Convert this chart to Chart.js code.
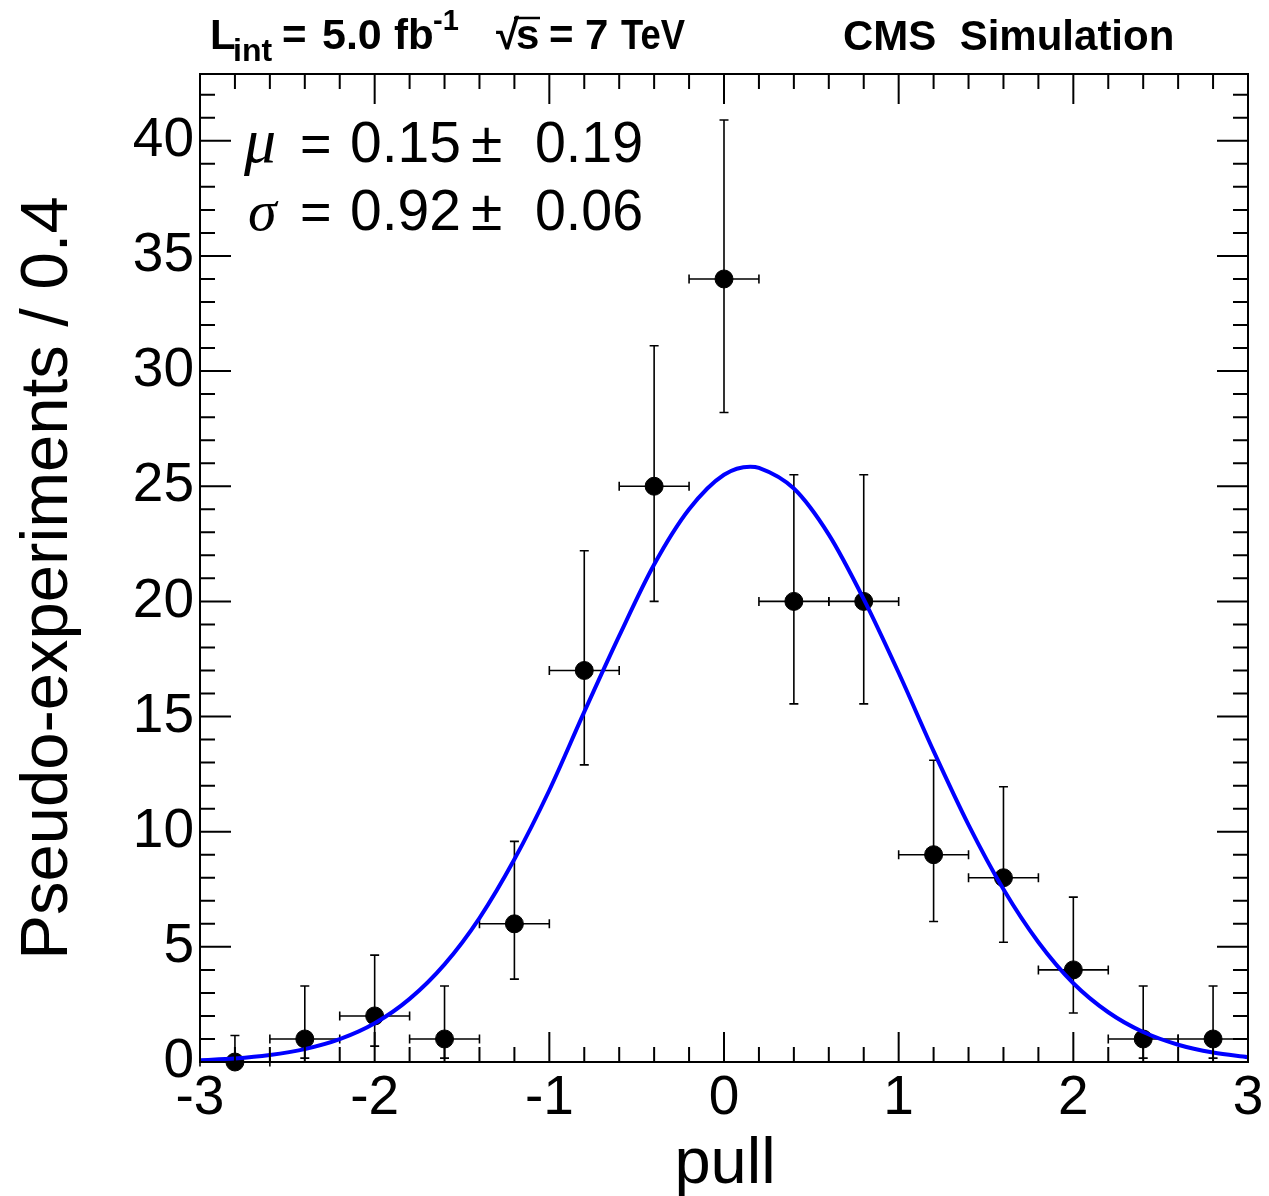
<!DOCTYPE html>
<html lang="en">
<head>
<meta charset="UTF-8">
<title>Pull distribution</title>
<script src="https://cdn.jsdelivr.net/npm/chart.js"></script>
<style>
  html, body { margin: 0; padding: 0; background: #fff; }
  canvas { display: block; }
</style>
</head>
<body>
<canvas id="pullChart" width="1269" height="1196"></canvas>
<script>
// pull histogram, bin width 0.4
const binCenters = [-2.8, -2.4, -2.0, -1.6, -1.2, -0.8, -0.4, 0.0, 0.4, 0.8, 1.2, 1.6, 2.0, 2.4, 2.8];
const counts     = [0, 1, 2, 1, 6, 17, 25, 34, 20, 20, 9, 8, 4, 1, 1];
const errLow     = [0, 0.83, 1.31, 0.83, 2.4, 4.1, 5.0, 5.8, 4.45, 4.45, 2.9, 2.8, 1.87, 0.83, 0.83];
const errHigh    = [1.15, 2.3, 2.64, 2.3, 3.58, 5.2, 6.1, 6.9, 5.5, 5.5, 4.1, 3.95, 3.16, 2.3, 2.3];
const binHalfWidth = 0.2;

// gaussian fit curve
const fitX = [-3.0, -2.8, -2.6, -2.4, -2.2, -2.0, -1.8, -1.6, -1.4, -1.2, -1.0, -0.8, -0.6, -0.4, -0.2, 0.0,
              0.15, 0.2, 0.4, 0.6, 0.8, 1.0, 1.2, 1.4, 1.6, 1.8, 2.0, 2.2, 2.4, 2.6, 2.8, 3.0];
const fitY = [0.08, 0.15, 0.3, 0.56, 0.99, 1.68, 2.74, 4.24, 6.25, 8.8, 11.8, 15.2, 18.5, 21.6, 24.0, 25.5,
              25.85, 25.8, 24.9, 22.9, 20.1, 16.9, 13.5, 10.3, 7.5, 5.2, 3.42, 2.16, 1.3, 0.75, 0.41, 0.21];

const xTickLabels = [-3, -2, -1, 0, 1, 2, 3];
const yTickLabels = [0, 5, 10, 15, 20, 25, 30, 35, 40];
const xMinorStep = 0.2;
const yMinorStep = 1;

const SANS = '"Liberation Sans", Arial, Helvetica, sans-serif';
const SERIF = '"Liberation Serif", "Times New Roman", serif';

const rootStyle = {
  id: 'rootStyle',
  beforeDatasetDraw(chart, args) {
    if (args.index !== 1) return;
    const { ctx, scales: { x, y } } = chart;
    const cap = 4.5;
    ctx.save();
    ctx.strokeStyle = '#000';
    ctx.lineWidth = 1.6;
    binCenters.forEach((c, i) => {
      const px = x.getPixelForValue(c);
      const py = y.getPixelForValue(counts[i]);
      const top = y.getPixelForValue(counts[i] + errHigh[i]);
      const bot = y.getPixelForValue(counts[i] - errLow[i]);
      const l = x.getPixelForValue(c - binHalfWidth);
      const r = x.getPixelForValue(c + binHalfWidth);
      ctx.beginPath();
      ctx.moveTo(px, top); ctx.lineTo(px, bot);
      ctx.moveTo(px - cap, top); ctx.lineTo(px + cap, top);
      if (errLow[i] > 0) { ctx.moveTo(px - cap, bot); ctx.lineTo(px + cap, bot); }
      ctx.moveTo(l, py); ctx.lineTo(r, py);
      ctx.moveTo(l, py - cap); ctx.lineTo(l, py + cap);
      ctx.moveTo(r, py - cap); ctx.lineTo(r, py + cap);
      ctx.stroke();
    });
    ctx.restore();
  },
  afterDraw(chart) {
    const { ctx, chartArea: a, scales: { x, y } } = chart;
    ctx.save();
    ctx.strokeStyle = '#000';
    ctx.lineWidth = 2;
    ctx.strokeRect(a.left, a.top, a.right - a.left, a.bottom - a.top);

    // ticks on all four sides, pointing inwards
    ctx.beginPath();
    for (let v = x.min; v <= x.max + 1e-6; v += xMinorStep) {
      const px = x.getPixelForValue(v);
      const major = xTickLabels.some(t => Math.abs(t - v) < 1e-6);
      const len = major ? 30 : 15;
      ctx.moveTo(px, a.bottom); ctx.lineTo(px, a.bottom - len);
      ctx.moveTo(px, a.top); ctx.lineTo(px, a.top + len);
    }
    for (let v = 0; v <= y.max + 1e-6; v += yMinorStep) {
      const py = y.getPixelForValue(v);
      const major = yTickLabels.includes(v);
      const len = major ? 31 : 15;
      ctx.moveTo(a.left, py); ctx.lineTo(a.left + len, py);
      ctx.moveTo(a.right, py); ctx.lineTo(a.right - len, py);
    }
    ctx.stroke();

    ctx.fillStyle = '#000';
    ctx.textBaseline = 'alphabetic';
    ctx.textAlign = 'left';

    // header
    const hb = 49;
    ctx.font = 'bold 42px ' + SANS;
    ctx.fillText('L', 210, hb);
    ctx.font = 'bold 32px ' + SANS;
    ctx.fillText('int', 233, hb + 12);
    ctx.font = 'bold 42px ' + SANS;
    ctx.fillText('=', 282, hb);
    ctx.font = 'bold 43px ' + SANS;
    ctx.fillText('5.0', 322, hb);
    ctx.font = 'bold 42px ' + SANS;
    ctx.fillText('fb', 394, hb);
    ctx.font = 'bold 29px ' + SANS;
    ctx.fillText('-1', 433, hb - 19);
    ctx.font = 'bold 42px ' + SANS;
    ctx.fillText('\u221A', 496, hb);
    ctx.fillText('s', 516, hb);
    ctx.lineWidth = 2.5;
    ctx.beginPath(); ctx.moveTo(514, 18); ctx.lineTo(540, 18); ctx.stroke();
    ctx.fillText('=', 549, hb);
    ctx.fillText('7', 585, hb);
    ctx.fillText('TeV', 621, hb, 64);
    ctx.fillText('CMS  Simulation', 843, hb + 1, 334);

    // fit results
    ctx.font = 'italic 64px ' + SERIF;
    ctx.fillText('\u03BC', 244, 162);
    ctx.font = 'italic 58px ' + SERIF;
    ctx.fillText('\u03C3', 248, 230);
    [[162, '0.15', '0.19'], [230, '0.92', '0.06']].forEach(([b, v, e]) => {
      ctx.font = '54px ' + SANS;
      ctx.fillText('=', 300, b);
      ctx.font = '57px ' + SANS;
      ctx.fillText(v, 350, b, 116);
      ctx.fillText('\u00B1', 471, b);
      ctx.fillText(e, 535, b, 108);
    });

    // axis titles
    ctx.font = '65px ' + SANS;
    ctx.textAlign = 'center';
    ctx.fillText('pull', 725, 1183);
    ctx.translate(67, 578);
    ctx.rotate(-Math.PI / 2);
    ctx.font = '67px ' + SANS;
    ctx.fillText('Pseudo-experiments / 0.4', 0, 0);
    ctx.restore();
  }
};

new Chart(document.getElementById('pullChart'), {
  type: 'scatter',
  data: {
    datasets: [
      {
        type: 'line',
        label: 'fit',
        data: fitX.map((v, i) => ({ x: v, y: fitY[i] })),
        borderColor: '#0000ff',
        borderWidth: 4,
        pointRadius: 0,
        fill: false,
        cubicInterpolationMode: 'monotone'
      },
      {
        label: 'pseudo-experiments',
        data: binCenters.map((v, i) => ({ x: v, y: counts[i] })),
        backgroundColor: '#000',
        borderColor: '#000',
        pointRadius: 9,
        clip: false
      }
    ]
  },
  options: {
    responsive: false,
    animation: false,
    devicePixelRatio: 1,
    layout: { padding: { top: 74, right: 21, left: 0, bottom: 0 } },
    plugins: { legend: { display: false }, tooltip: { enabled: false } },
    scales: {
      x: {
        type: 'linear',
        min: -3,
        max: 3,
        grid: { display: false, drawTicks: false, tickLength: 0 },
        border: { display: false },
        ticks: {
          color: '#000',
          font: { family: SANS, size: 55 },
          padding: 4,
          maxRotation: 0,
          autoSkip: false,
          callback: v => String(v)
        },
        afterBuildTicks: s => { s.ticks = xTickLabels.map(v => ({ value: v })); },
        afterFit: s => { s.height = 134; }
      },
      y: {
        type: 'linear',
        min: 0,
        max: 42.9,
        grid: { display: false, drawTicks: false, tickLength: 0 },
        border: { display: false },
        ticks: {
          color: '#000',
          font: { family: SANS, size: 55 },
          padding: 6,
          autoSkip: false,
          callback: v => String(v)
        },
        afterBuildTicks: s => { s.ticks = yTickLabels.map(v => ({ value: v })); },
        afterFit: s => { s.width = 200; }
      }
    }
  },
  plugins: [rootStyle]
});
</script>
</body>
</html>
